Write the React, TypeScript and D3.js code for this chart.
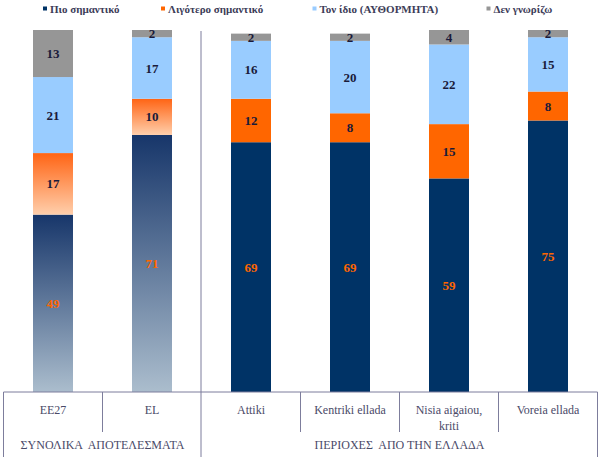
import React from "react";
import * as d3 from "d3";

const categories = ["EE27", "EL", "Attiki", "Kentriki ellada", "Nisia aigaiou, kriti", "Voreia ellada"];
const categoryLines = [["EE27"], ["EL"], ["Attiki"], ["Kentriki ellada"], ["Nisia aigaiou,", "kriti"], ["Voreia ellada"]];
const seriesNames = ["Πιο σημαντικό", "Λιγότερο σημαντικό", "Τον ίδιο (ΑΥΘΟΡΜΗΤΑ)", "Δεν γνωρίζω"];
const mostImportant = [49, 71, 69, 69, 59, 75];
const lessImportant = [17, 10, 12, 8, 15, 8];
const theSame = [21, 17, 16, 20, 22, 15];
const dontKnow = [13, 2, 2, 2, 4, 2];
const groupLabels = ["ΣΥΝΟΛΙΚΑ  ΑΠΟΤΕΛΕΣΜΑΤΑ", "ΠΕΡΙΟΧΕΣ  ΑΠΟ ΤΗΝ ΕΛΛΑΔΑ"];
const groupSizes = [2, 4];
const gradientCategories = ["EE27", "EL"];

const W = 600, H = 460;
const left = 3.5, right = 597.5, top = 30, base = 392;
const serif = "Liberation Serif, Tinos, DejaVu Serif, Times New Roman, serif";

const solidColors = ["#003366", "#ff6600", "#99ccff", "#969696"];
const legendColors = ["#003366", "#ff6600", "#99ccff", "#969696"];
const labelColors = ["#ff6600", "#1a1a3a", "#1a1a3a", "#1a1a3a"];
const lineColor = "#7d7d9c";
const textColor = "#4a4a68";

export default function App() {
  const series = [mostImportant, lessImportant, theSame, dontKnow];
  const rows = categories.map((c, i) => ({ cat: c, s0: series[0][i], s1: series[1][i], s2: series[2][i], s3: series[3][i] }));
  const stack = d3.stack<any>().keys(["s0", "s1", "s2", "s3"])(rows);
  const x = d3.scaleBand().domain(categories).range([left, right]).paddingInner(0.596).paddingOuter(0.298);
  const cell = d3.scaleBand().domain(categories).range([left, right]).padding(0);
  const y = d3.scaleLinear().domain([0, 100]).range([base, top]);

  const fillFor = (k: number, cat: string) => {
    if (gradientCategories.includes(cat)) {
      if (k === 0) return "url(#gDark)";
      if (k === 1) return "url(#gOrange)";
    }
    return solidColors[k];
  };

  let acc = 0;
  const groups = groupSizes.map((n, gi) => {
    const x0 = cell(categories[acc])!;
    const x1 = cell(categories[acc + n - 1])! + cell.bandwidth();
    acc += n;
    return { x0, x1, label: groupLabels[gi] };
  });

  const legendX = [43, 161, 312.5, 486.5];

  return (
    <svg width={W} height={H} style={{ position: "absolute", left: 0, top: 0, fontFamily: serif }}>
      <defs>
        <linearGradient id="gDark" x1="0" y1="0" x2="0" y2="1">
          <stop offset="0" stopColor="#17366a" />
          <stop offset="1" stopColor="#abbdcd" />
        </linearGradient>
        <linearGradient id="gOrange" x1="0" y1="0" x2="0" y2="1">
          <stop offset="0" stopColor="#ff6414" />
          <stop offset="1" stopColor="#ffcfac" />
        </linearGradient>
        <clipPath id="plotClip">
          <rect x={0} y={top} width={W} height={base - top} />
        </clipPath>
      </defs>
      <rect width={W} height={H} fill="#fff" />

      {seriesNames.map((n, i) => (
        <g key={n}>
          <rect x={legendX[i]} y={6.5} width={4} height={4} fill={legendColors[i]} />
          <text x={legendX[i] + 7} y={12.5} style={{ fontFamily: serif }} fontSize={11} fontWeight="bold" fill="#3c3c58">{n}</text>
        </g>
      ))}

      {stack.map((layer, k) => (
        <g key={k}>
          {layer.map((d: any, i: number) => (
            <rect key={i} x={x(categories[i])} width={x.bandwidth()} y={y(d[1])} height={y(d[0]) - y(d[1])} fill={fillFor(k, categories[i])} />
          ))}
        </g>
      ))}

      <g clipPath="url(#plotClip)">
        {stack.map((layer, k) => (
          <g key={k}>
            {layer.map((d: any, i: number) => (
              <text key={i} x={x(categories[i])! + x.bandwidth() / 2} y={(y(d[0]) + y(d[1])) / 2} dy="0.35em" textAnchor="middle"
                style={{ fontFamily: serif }} fontSize={13} fontWeight="bold" fill={labelColors[k]}>
                {d[1] - d[0]}
              </text>
            ))}
          </g>
        ))}
      </g>

      <g stroke={lineColor} strokeWidth={1} fill="none">
        <line x1={left} x2={right} y1={base} y2={base} />
        <line x1={left} x2={left} y1={base} y2={457} />
        <line x1={right} x2={right} y1={base} y2={457} />
        {categories.slice(1).map((c) => {
          const xx = cell(c)!;
          const isGroup = groups.some((g) => Math.abs(g.x0 - xx) < 0.1);
          return isGroup ? null : <line key={c} x1={xx} x2={xx} y1={base} y2={432} />;
        })}
        {groups.slice(1).map((g, i) => (
          <line key={i} x1={g.x0 - 0.5} x2={g.x0 - 0.5} y1={31} y2={457} />
        ))}
      </g>

      {categoryLines.map((lines, i) => (
        <text key={i} x={cell(categories[i])! + cell.bandwidth() / 2} textAnchor="middle" style={{ fontFamily: serif }} fontSize={12} fill={textColor}>
          {lines.map((l, j) => (
            <tspan key={j} x={cell(categories[i])! + cell.bandwidth() / 2} y={414 + j * 16}>{l}</tspan>
          ))}
        </text>
      ))}

      {groups.map((g, i) => (
        <text key={i} x={(g.x0 + g.x1) / 2} y={449} textAnchor="middle" style={{ fontFamily: serif, whiteSpace: "pre" }} fontSize={12} fill={textColor}>
          {g.label}
        </text>
      ))}
    </svg>
  );
}
